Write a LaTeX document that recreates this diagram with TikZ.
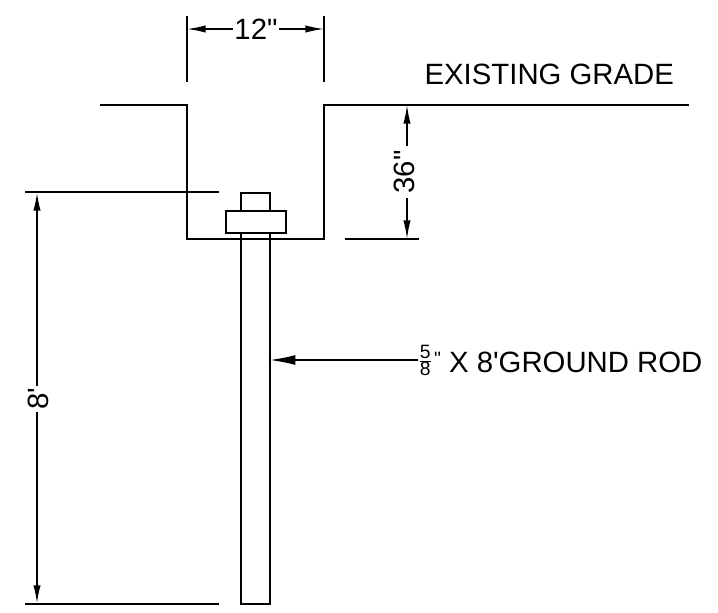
\documentclass[tikz,border=0pt]{standalone}
\usepackage{fontspec}
\usetikzlibrary{arrows.meta}
\newfontfamily\dimfont{Liberation Sans}

\tikzset{
  part/.style={line width=1.4pt},
  dimline/.style={line width=1.1pt},
  dimarrow/.style={line width=1.1pt, -{Latex[length=14pt,width=5.5pt]}},
  dimtext/.style={inner sep=1pt, font=\dimfont\fontsize{22}{22}\selectfont, text height=16pt, text depth=0pt},
}

\begin{document}
\begin{tikzpicture}[x=0.75pt,y=-0.75pt]

% Fix the page size
\useasboundingbox (0,0) rectangle (718,613);

% Trench and grade
\coordinate (GL) at (100,105);
\coordinate (TL) at (187,105);
\coordinate (BL) at (187,239);
\coordinate (BR) at (324,239);
\coordinate (TR) at (324,105);
\coordinate (GR) at (689,105);
\draw[part] (GL) -- (TL) -- (BL) -- (BR) -- (TR) -- (GR);

% Ground rod
\draw[part] (241,233) -- (241,604) -- (270,604) -- (270,233);

% Clamp on the rod
\draw[part, fill=white] (226,211) rectangle (286,233);
\draw[part] (241,211) -- (241,193) -- (270,193) -- (270,211);

% Top dimension
\coordinate (W1) at (187,16);
\coordinate (W2) at (187,82);
\coordinate (W3) at (324,16);
\coordinate (W4) at (324,82);
\coordinate (WL) at (187,29);
\coordinate (WR) at (324,29);
\draw[dimline] (W1) -- (W2);
\draw[dimline] (W3) -- (W4);
\node[dimtext] (width) at (256,29) {12"};
\draw[dimarrow] (width) -- (WL);
\draw[dimarrow] (width) -- (WR);

% Depth dimension
\coordinate (D1) at (345,239);
\coordinate (D2) at (419,239);
\coordinate (DT) at (407,105);
\coordinate (DB) at (407,239);
\draw[dimline] (D1) -- (D2);
\node[dimtext, rotate=90, inner sep=3pt] (depth) at (404,172) {36"};
\draw[dimarrow] (depth.east -| DT) -- (DT);
\draw[dimarrow] (depth.west -| DB) -- (DB);

% Rod length dimension
\coordinate (L1) at (25,192);
\coordinate (L2) at (219,192);
\coordinate (L3) at (25,604);
\coordinate (L4) at (219,604);
\coordinate (LT) at (37,192);
\coordinate (LB) at (37,604);
\draw[dimline] (L1) -- (L2);
\draw[dimline] (L3) -- (L4);
\node[dimtext, rotate=90] (length) at (38,399) {8'};
\draw[dimarrow, line width=1.5pt] (length.east -| LT) -- (LT);
\draw[dimarrow, line width=1.5pt] (length.west -| LB) -- (LB);

% Labels
\node[dimtext, anchor=west] (grade) at (423,74) {EXISTING GRADE};
\coordinate (R) at (270,360);
\node[inner sep=0pt, font=\dimfont\fontsize{14.5}{14.5}\selectfont, anchor=west] (frac) at (418,360)
  {$\textstyle\frac{\hbox{\dimfont\fontsize{14.5}{14.5}\selectfont 5}}{\hbox{\dimfont\fontsize{14.5}{14.5}\selectfont 8}}$};
\node[dimtext, anchor=base west] (rod) at (frac.east |- 0,372) {\raisebox{5pt}{\fontsize{14.5}{14.5}\selectfont"} X 8'GROUND ROD};
\draw[dimarrow, -{Latex[length=19pt,width=7.5pt]}] (frac) -- (R);

\end{tikzpicture}
\end{document}
